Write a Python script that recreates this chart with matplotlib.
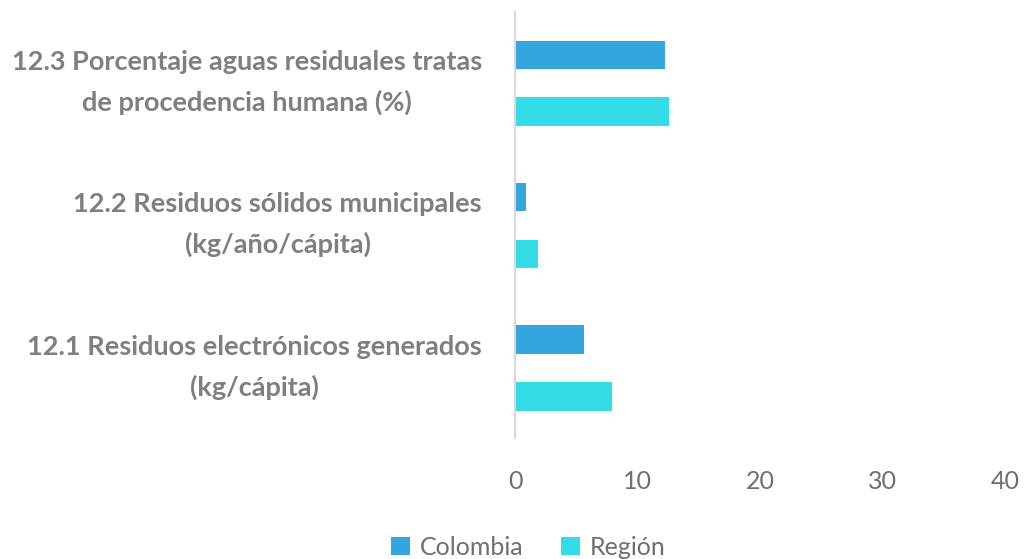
import numpy as np
import matplotlib
matplotlib.use("Agg")
import matplotlib.pyplot as plt
import matplotlib.transforms as mtrans

# data
categories = ["12.1 Residuos electrónicos generados\n(kg/cápita)",
              "12.2 Residuos sólidos municipales\n(kg/año/cápita)",
              "12.3 Porcentaje aguas residuales tratas\nde procedencia humana (%)"]
colombia = [5.6, 0.9, 12.2]
region = [7.9, 1.9, 12.6]
x_ticks = [0, 10, 20, 30, 40]

blue = "#33a6de"
cyan = "#33dce6"
grey = "#7f7f7f"

plt.rcParams['font.family'] = ['Lato', 'DejaVu Sans']

fig = plt.figure(figsize=(10.26, 5.59), dpi=100)
ax = fig.add_axes([0.502, 0.2165, 0.4776, 0.762])

y = np.arange(len(categories))
h = 0.2
ax.barh(y + h, colombia, height=h, color=blue, label="Colombia")
ax.barh(y - h, region, height=h, color=cyan, label="Región")

ax.set_xlim(0, 40)
ax.set_ylim(-0.49, 2.5)
ax.set_xticks(x_ticks)
ax.set_xticklabels([str(t) for t in x_ticks], fontsize=18, color='#6f6f6f')
ax.set_yticks([])
ax.tick_params(axis='x', length=0, pad=23)

# category labels as text, right edge left of the axis
trans = ax.get_yaxis_transform() + mtrans.ScaledTranslation(-0.33, 0.01, fig.dpi_scale_trans)
for yi, cat in zip(y, categories):
    ax.text(0, yi, cat, transform=trans, ha='right', va='center', multialignment='center',
            fontsize=19.5, color=grey, fontweight='bold', linespacing=1.75)

for s in ['top', 'right', 'bottom']:
    ax.spines[s].set_visible(False)
ax.spines['left'].set_color('#d9d9d9')
ax.spines['left'].set_linewidth(1.5)

fig.legend(loc='lower center', bbox_to_anchor=(0.515, -0.04), ncol=2, frameon=False,
           fontsize=18, handlelength=0.75, handleheight=0.75, handletextpad=0.4,
           columnspacing=1.5, labelcolor='#6f6f6f')

fig.savefig("out.png", dpi=100)
